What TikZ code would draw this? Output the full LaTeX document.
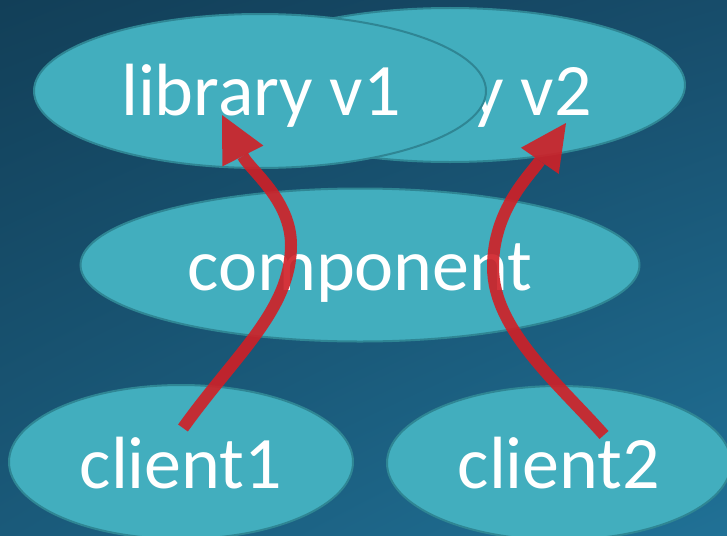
\documentclass[tikz,border=0pt]{standalone}
\usepackage{fontspec}
\setmainfont{Carlito}
\usetikzlibrary{shapes.geometric,arrows.meta,shadings}
\definecolor{bgA}{HTML}{123F58}
\definecolor{bgB}{HTML}{174C6A}
\definecolor{bgC}{HTML}{1A5A7A}
\definecolor{bgD}{HTML}{207196}
\definecolor{ellfill}{HTML}{42AEBE}
\definecolor{ellline}{HTML}{2F8694}
\definecolor{arrred}{HTML}{D01F26}
\tikzset{
  blob/.style={ellipse, fill=ellfill, draw=ellline, line width=2pt, inner sep=0pt},
  lbl/.style={anchor=base, text=white, inner sep=0pt, font=\fontsize{74}{80}\selectfont},
  deparrow/.style={draw=arrred, line width=12pt, draw opacity=0.9, fill opacity=0.9,
    -{Triangle[length=46pt 0 0,width=46pt 0 0,line width=0pt,fill=arrred]}}
}
\begin{document}
\begin{tikzpicture}[x=1pt,y=-1pt]
\useasboundingbox (0,0) rectangle (727,535);
\shade[upper left=bgA, upper right=bgB, lower left=bgC, lower right=bgD] (0,0) rectangle (727,535);
% ellipses
\node[blob, minimum width=470pt, minimum height=154pt] (v2) at (450,85) {};
\node[lbl] (v2t) at (452,115) {library v2};
\node[blob, minimum width=452pt, minimum height=154pt] (v1) at (260,91) {};
\node[lbl] (v1t) at (261,115) {library v1};
\node[blob, minimum width=559pt, minimum height=153pt] (comp) at (360,265) {};
\node[lbl] (compt) at (360,290) {component};
\node[blob, minimum width=344pt, minimum height=154pt] (c1) at (181,462) {};
\node[lbl] (c1t) at (181,488) {client1};
\node[blob, minimum width=344pt, minimum height=154pt] (c2) at (559,463) {};
\node[lbl] (c2t) at (559,488) {client2};
% arrows
\coordinate (a1s) at (183,428);
\coordinate (a1m) at (291,245);
\coordinate (a1e) at (222,115);
\coordinate (a2s) at (604,435);
\coordinate (a2m) at (493,267);
\coordinate (a2e) at (566,123);
\draw[deparrow] (a1s) .. controls (235,355) and (291,310) .. (a1m)
  .. controls (291,200) and (250,170) .. (a1e);
\draw[deparrow] (a2s) .. controls (560,385) and (493,330) .. (a2m)
  .. controls (493,210) and (530,175) .. (a2e);
\end{tikzpicture}
\end{document}
